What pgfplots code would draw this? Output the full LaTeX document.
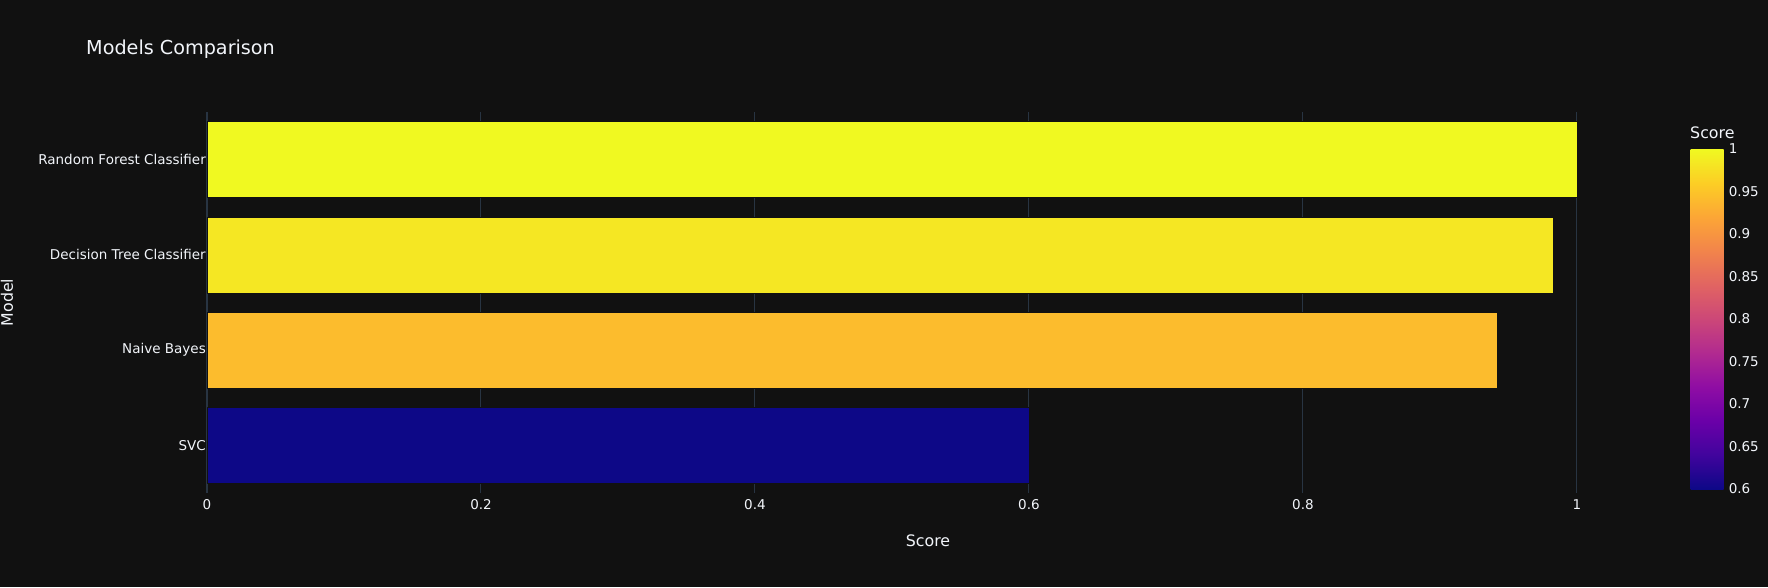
\documentclass[border=0pt]{standalone}
\usepackage{pgfplots}
\pgfplotsset{compat=1.18}
\usepackage{fontspec}
\setmainfont{DejaVu Sans}
\definecolor{bg}{HTML}{111111}
\definecolor{gridc}{HTML}{283442}
\definecolor{txt}{HTML}{F2F5FA}
\definecolor{cRF}{RGB}{240,249,33}
\definecolor{cDT}{RGB}{245,231,35}
\definecolor{cNB}{RGB}{252,188,45}
\definecolor{cSVC}{RGB}{13,8,135}
\begin{document}
\begin{tikzpicture}[x=1pt,y=1pt]
\fill[bg] (0,0) rectangle (1768,587);
\begin{axis}[
 at={(207pt,94pt)}, anchor=south west,
 scale only axis, width=1442pt, height=381pt,
 xmin=0, xmax=1.0526, ymin=-0.5, ymax=3.5,
 axis line style={draw=none},
 major tick length=0pt,
 xmajorgrids, grid style={gridc, line width=1pt},
 xtick={0,0.2,0.4,0.6,0.8,1},
 ytick={0,1,2,3},
 yticklabels={SVC, Naive Bayes, Decision Tree Classifier, Random Forest Classifier},
 ticklabel style={text=txt, font=\fontsize{13.5}{16}\selectfont},
 /pgf/number format/assume math mode=true,
 xticklabel style={anchor=north, inner sep=0pt, yshift=-6pt},
 yticklabel style={anchor=east, inner sep=0pt, xshift=-1pt},
 xlabel={Score}, ylabel={Model},
 label style={text=txt, font=\fontsize{15.8}{18}\selectfont},
 xlabel style={at={(axis description cs:0.5,-0.126)}, anchor=center},
 ylabel style={at={(axis description cs:-0.1387,0.5)}, anchor=center},
 colormap={plasma}{rgb255=(13,8,135) rgb255=(65,4,157) rgb255=(106,0,168) rgb255=(143,13,164) rgb255=(177,42,144) rgb255=(204,71,120) rgb255=(225,100,98) rgb255=(242,132,75) rgb255=(252,166,54) rgb255=(252,206,37) rgb255=(240,249,33)},
 colorbar, point meta min=0.6, point meta max=1,
 colorbar/width=33pt,
 colorbar style={at={(parent axis.north east)}, anchor=north west, xshift=33pt, yshift=-37pt,
   height=340pt, scale only axis,
   ytick={0.6,0.65,0.7,0.75,0.8,0.85,0.9,0.95,1},
   major tick length=0pt, axis line style={draw=none},
   yticklabel style={anchor=west, inner sep=0pt, xshift=5pt, text=txt, font=\fontsize{13.5}{16}\selectfont},
   /pgf/number format/assume math mode=true},
]
\draw[gridc, line width=2pt] (axis cs:0,-0.5) -- (axis cs:0,3.5);
\addplot[xbar, bar width=0.8, bar shift=0pt, fill=cSVC, draw=bg, line width=0.5pt] coordinates {(0.6,0)};
\addplot[xbar, bar width=0.8, bar shift=0pt, fill=cNB, draw=bg, line width=0.5pt] coordinates {(0.9416,1)};
\addplot[xbar, bar width=0.8, bar shift=0pt, fill=cDT, draw=bg, line width=0.5pt] coordinates {(0.983,2)};
\addplot[xbar, bar width=0.8, bar shift=0pt, fill=cRF, draw=bg, line width=0.5pt] coordinates {(1.0,3)};
\end{axis}
\node[anchor=west, text=txt, font=\fontsize{19.2}{22}\selectfont, inner sep=0pt] at (86,538) {Models Comparison};
\node[anchor=west, text=txt, font=\fontsize{15.8}{18}\selectfont, inner sep=0pt] at (1690,454) {Score};
\pgfresetboundingbox
\useasboundingbox (0,0) rectangle (1768,587);
\end{tikzpicture}
\end{document}
